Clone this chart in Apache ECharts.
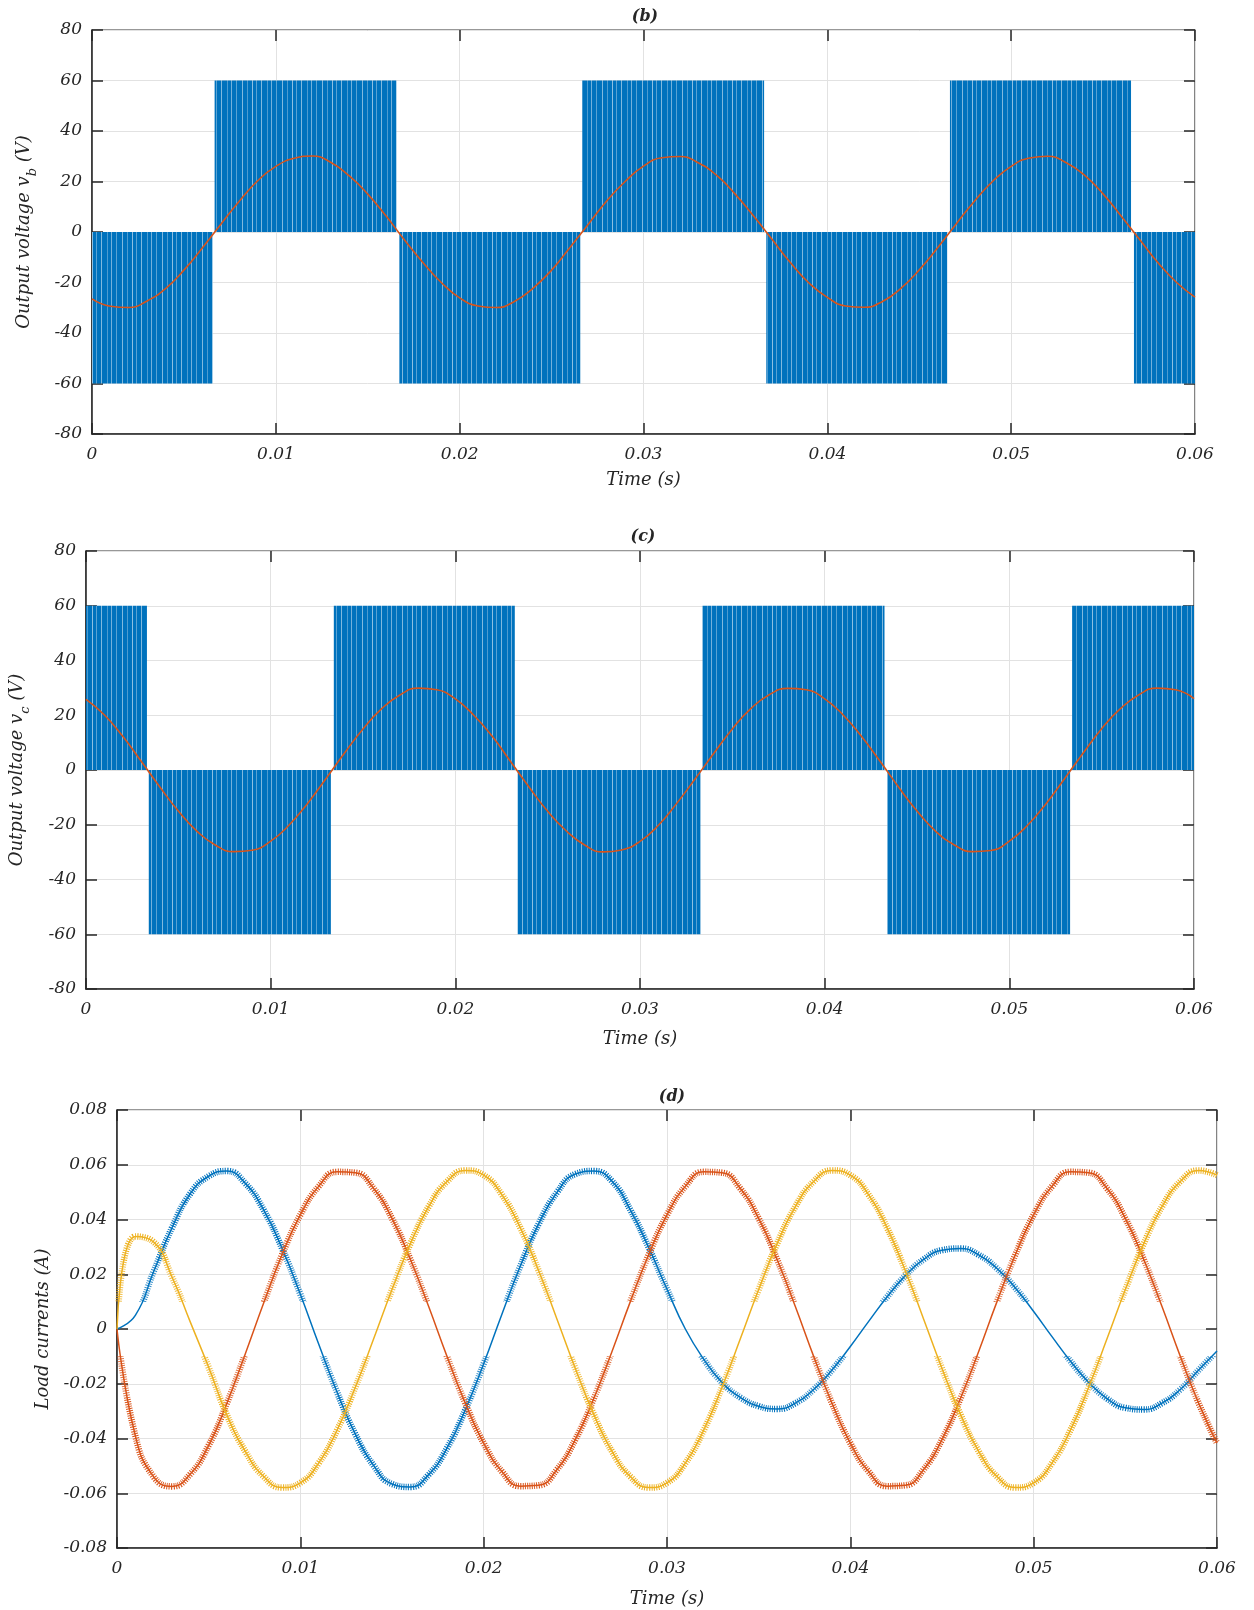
<!DOCTYPE html>
<html>
<head>
<meta charset="utf-8">
<script src="https://cdn.jsdelivr.net/npm/echarts@6/dist/echarts.min.js"></script>
<style>
  html, body { margin: 0; padding: 0; background: #fff; }
  #chart { width: 1254px; height: 1610px; }
</style>
</head>
<body>
<div id="chart"></div>
<script>
// sample times (s)
const time = [0, 0.001, 0.002, 0.003, 0.004, 0.005, 0.006, 0.007, 0.008, 0.009,
  0.010, 0.011, 0.012, 0.013, 0.014, 0.015, 0.016, 0.017, 0.018, 0.019,
  0.020, 0.021, 0.022, 0.023, 0.024, 0.025, 0.026, 0.027, 0.028, 0.029,
  0.030, 0.031, 0.032, 0.033, 0.034, 0.035, 0.036, 0.037, 0.038, 0.039,
  0.040, 0.041, 0.042, 0.043, 0.044, 0.045, 0.046, 0.047, 0.048, 0.049,
  0.050, 0.051, 0.052, 0.053, 0.054, 0.055, 0.056, 0.057, 0.058, 0.059, 0.060];

// PWM blocks of v_b (start, end, level)
const vbStart = [0, 0.00667, 0.01672, 0.02667, 0.03668, 0.04667, 0.05668];
const vbEnd = [0.00657, 0.01656, 0.02656, 0.03656, 0.04652, 0.05652, 0.06];
const vbLevel = [-60, 60, -60, 60, -60, 60, -60];

// PWM blocks of v_c
const vcStart = [0, 0.0034, 0.01342, 0.02338, 0.03339, 0.04339, 0.0534];
const vcEnd = [0.0033, 0.01326, 0.02322, 0.03327, 0.04324, 0.05329, 0.06];
const vcLevel = [60, -60, 60, -60, 60, -60, 60];

// fundamental of v_b and v_c (V)
const vbFund = [-26.5, -29.4, -29.9, -27.3, -22.4, -15.1, -6.3, 3.0, 12.1, 20.2,
  26.0, 29.2, 30.1, 27.5, 22.2, 15.0, 6.3, -3.2, -12.1, -20.0,
  -26.1, -29.3, -29.9, -27.4, -22.2, -15.1, -6.1, 3.1, 12.3, 20.0,
  26.1, 29.4, 29.9, 27.3, 22.3, 14.9, 6.2, -3.0, -12.2, -20.2,
  -25.9, -29.3, -29.8, -27.5, -22.3, -15.0, -6.2, 3.1, 12.2, 20.1,
  26.0, 29.3, 30.0, 27.4, 22.4, 15.1, 6.1, -3.1, -12.3, -20.0, -25.8];
const vcFund = [25.8, 20.1, 12.2, 3.1, -6.2, -15.0, -22.3, -27.4, -29.8, -29.3,
  -26.0, -20.1, -12.2, -3.1, 6.2, 15.0, 22.3, 27.4, 29.9, 29.3,
  26.0, 20.0, 12.3, 3.0, -6.3, -15.1, -22.2, -27.4, -29.9, -29.2,
  -26.1, -20.2, -12.1, -3.1, 6.1, 15.0, 22.4, 27.5, 29.8, 29.3,
  26.0, 20.1, 12.2, 3.2, -6.2, -15.0, -22.3, -27.3, -29.8, -29.4,
  -26.0, -20.1, -12.2, -3.1, 6.2, 15.1, 22.3, 27.4, 29.9, 29.3, 26.1];

// load currents (A)
const iBlue = [0, 0.005, 0.021, 0.037, 0.0495, 0.0558, 0.0577, 0.0532, 0.0435, 0.0295,
  0.0127, -0.0055, -0.0230, -0.0384, -0.0499, -0.0566, -0.0577, -0.0532, -0.0435, -0.0295,
  -0.0127, 0.0055, 0.0230, 0.0384, 0.0499, 0.0566, 0.0577, 0.0540, 0.0435, 0.0298,
  0.0145, 0.0000, -0.0110, -0.0195, -0.0250, -0.0282, -0.0292, -0.0271, -0.0221, -0.0150,
  -0.0064, 0.0028, 0.0117, 0.0195, 0.0254, 0.0288, 0.0294, 0.0271, 0.0221, 0.0150,
  0.0064, -0.0028, -0.0117, -0.0195, -0.0254, -0.0288, -0.0294, -0.0271, -0.0221, -0.0150, -0.0080];
const iRed = [0, -0.039, -0.054, -0.0575, -0.0530, -0.0425, -0.0270, -0.0090, 0.0095, 0.0271,
  0.0417, 0.0521, 0.0574, 0.0571, 0.0513, 0.0404, 0.0255, 0.0082, -0.0100, -0.0271,
  -0.0417, -0.0521, -0.0574, -0.0571, -0.0513, -0.0404, -0.0255, -0.0082, 0.0100, 0.0271,
  0.0417, 0.0521, 0.0574, 0.0571, 0.0513, 0.0404, 0.0255, 0.0082, -0.0100, -0.0271,
  -0.0417, -0.0521, -0.0574, -0.0571, -0.0513, -0.0404, -0.0255, -0.0082, 0.0100, 0.0271,
  0.0417, 0.0521, 0.0574, 0.0571, 0.0513, 0.0404, 0.0255, 0.0082, -0.0100, -0.0271, -0.0417];
const iYellow = [0, 0.0338, 0.0318, 0.0190, 0.0025, -0.0140, -0.0315, -0.0447, -0.0539, -0.0579,
  -0.0562, -0.0490, -0.0370, -0.0213, -0.0036, 0.0144, 0.0311, 0.0447, 0.0539, 0.0579,
  0.0562, 0.0490, 0.0370, 0.0213, 0.0036, -0.0144, -0.0311, -0.0447, -0.0539, -0.0579,
  -0.0562, -0.0490, -0.0370, -0.0213, -0.0036, 0.0144, 0.0311, 0.0447, 0.0539, 0.0579,
  0.0562, 0.0490, 0.0370, 0.0213, 0.0036, -0.0144, -0.0311, -0.0447, -0.0539, -0.0579,
  -0.0562, -0.0490, -0.0370, -0.0213, -0.0036, 0.0144, 0.0311, 0.0447, 0.0539, 0.0579, 0.0562];

const BLUE = '#0072BD';
const RED = '#D95319';
const YELLOW = '#EDB120';
const INK = '#262626';
const FONT = 'DejaVu Serif';

// blue fill with thin light stripes, like the dense PWM pulses
function stripeCanvas() {
  const c = document.createElement('canvas');
  c.width = 40;
  c.height = 8;
  const ctx = c.getContext('2d');
  ctx.fillStyle = BLUE;
  ctx.fillRect(0, 0, 40, 8);
  const stripes = [[2, 0.5], [7, 0.3], [12, 0.55], [16, 0.35], [21, 0.5], [27, 0.3], [31, 0.45], [36, 0.35]];
  stripes.forEach(([x, a]) => {
    ctx.fillStyle = 'rgba(255,255,255,' + a + ')';
    ctx.fillRect(x, 0, 1, 8);
  });
  return c;
}
const stripes = stripeCanvas();

function renderBlock(params, api) {
  const a = api.coord([api.value(0), api.value(2)]);
  const b = api.coord([api.value(1), 0]);
  return {
    type: 'rect',
    shape: { x: a[0], y: Math.min(a[1], b[1]), width: b[0] - a[0], height: Math.abs(b[1] - a[1]) },
    style: { fill: { image: stripes, repeat: 'repeat' } }
  };
}

const grids = [
  { left: 92, top: 30, right: 59, height: 404 },
  { left: 86, top: 551, right: 60, height: 438 },
  { left: 117, top: 1110, right: 37, height: 438 }
];

const labelStyle = { fontFamily: FONT, fontStyle: 'italic', fontSize: 17, color: INK };
const nameStyle = { fontFamily: FONT, fontStyle: 'italic', fontSize: 18, color: INK };
const tickStyle = { inside: true, length: 11, lineStyle: { color: INK, width: 1.5 } };

function timeLabel(v) {
  return v === 0 ? '0' : v.toFixed(2);
}

const xAxes = [];
const yAxes = [];
const xGaps = [37, 41, 42];
grids.forEach((g, i) => {
  xAxes.push({
    type: 'value', gridIndex: i, position: 'bottom', min: 0, max: 0.06, interval: 0.01,
    axisLine: { show: true, onZero: false, lineStyle: { color: INK, width: 1.5 } },
    axisTick: tickStyle,
    axisLabel: Object.assign({ margin: 12, formatter: timeLabel }, labelStyle),
    splitLine: { show: true, lineStyle: { color: '#e2e2e2', width: 1 } },
    name: 'Time (s)', nameLocation: 'middle', nameGap: xGaps[i], nameTextStyle: nameStyle
  });
  xAxes.push({
    type: 'value', gridIndex: i, position: 'top', min: 0, max: 0.06, interval: 0.01,
    axisLine: { show: false, onZero: false },
    axisTick: tickStyle,
    axisLabel: { show: false }, splitLine: { show: false }
  });
});

const nameRich = {
  a: { fontFamily: FONT, fontStyle: 'italic', fontSize: 18, color: INK, padding: [0, 0, 6, 0], verticalAlign: 'bottom' },
  s: { fontFamily: FONT, fontStyle: 'italic', fontSize: 13, color: INK, verticalAlign: 'bottom' }
};

const yDefs = [
  { min: -80, max: 80, step: 20, name: '{a|Output voltage v}{s|b}{a| (V)}', gap: 53, fmt: v => String(v) },
  { min: -80, max: 80, step: 20, name: '{a|Output voltage v}{s|c}{a| (V)}', gap: 54, fmt: v => String(v) },
  { min: -0.08, max: 0.08, step: 0.02, name: '{a|Load currents (A)}', gap: 58, fmt: v => (v === 0 ? '0' : v.toFixed(2)) }
];
yDefs.forEach((d, i) => {
  yAxes.push({
    type: 'value', gridIndex: i, position: 'left', min: d.min, max: d.max, interval: d.step,
    axisLine: { show: true, onZero: false, lineStyle: { color: INK, width: 1.5 } },
    axisTick: tickStyle,
    axisLabel: Object.assign({ margin: 10, formatter: d.fmt }, labelStyle),
    splitLine: { show: true, lineStyle: { color: '#e2e2e2', width: 1 } },
    name: d.name, nameLocation: 'middle', nameGap: d.gap,
    nameTextStyle: { rich: nameRich }
  });
  yAxes.push({
    type: 'value', gridIndex: i, position: 'right', min: d.min, max: d.max, interval: d.step,
    axisLine: { show: false, onZero: false },
    axisTick: tickStyle,
    axisLabel: { show: false }, splitLine: { show: false }
  });
});

function pairs(vals) {
  return time.map((t, i) => [t, vals[i]]);
}
function blocks(starts, ends, levels) {
  return starts.map((s, i) => [s, ends[i], levels[i]]);
}

function pwmSeries(idx, data) {
  return {
    type: 'custom', xAxisIndex: idx * 2, yAxisIndex: idx * 2,
    renderItem: renderBlock, clip: true,
    encode: { x: [0, 1], y: 2 },
    data: data, z: 2
  };
}
function fundSeries(idx, vals) {
  return {
    type: 'line', xAxisIndex: idx * 2, yAxisIndex: idx * 2,
    data: pairs(vals), smooth: true, symbol: 'none',
    lineStyle: { color: RED, width: 1.6 }, z: 3
  };
}
// each current: a thin core line plus a thick dashed copy that mimics the ripple teeth
// (the copy takes its colour from a visualMap so it can fade near zero)
function currentSeries(vals, color, z) {
  return [
    {
      type: 'line', xAxisIndex: 4, yAxisIndex: 4, data: pairs(vals),
      smooth: true, symbol: 'none', lineStyle: { color: color, width: 1.5 }, z: z
    },
    {
      type: 'line', xAxisIndex: 4, yAxisIndex: 4, data: pairs(vals),
      smooth: true, symbol: 'none', lineStyle: { width: 6.5, type: [1, 1.3] }, z: z
    }
  ];
}

function rippleMap(seriesIndex, rgb) {
  const full = 'rgba(' + rgb + ',1)';
  const part = 'rgba(' + rgb + ',0.8)';
  const none = 'rgba(' + rgb + ',0)';
  return {
    type: 'piecewise', show: false, seriesIndex: seriesIndex, dimension: 1,
    pieces: [
      { lt: -0.025, color: full },
      { gte: -0.025, lt: -0.01, color: part },
      { gte: -0.01, lt: 0.01, color: none },
      { gte: 0.01, lt: 0.025, color: part },
      { gte: 0.025, color: full }
    ]
  };
}

const chart = echarts.init(document.getElementById('chart'), null, { renderer: 'canvas' });
chart.setOption({
  animation: false,
  backgroundColor: '#fff',
  title: [
    { text: '(b)', left: 640, top: 4, textAlign: 'center', textStyle: { fontFamily: FONT, fontStyle: 'italic', fontWeight: 'bold', fontSize: 16, color: INK } },
    { text: '(c)', left: 638, top: 524, textAlign: 'center', textStyle: { fontFamily: FONT, fontStyle: 'italic', fontWeight: 'bold', fontSize: 16, color: INK } },
    { text: '(d)', left: 667, top: 1084, textAlign: 'center', textStyle: { fontFamily: FONT, fontStyle: 'italic', fontWeight: 'bold', fontSize: 16, color: INK } }
  ],
  grid: grids.map(g => Object.assign({ show: true, borderColor: '#333', borderWidth: 1.2, backgroundColor: 'transparent' }, g)),
  xAxis: xAxes,
  yAxis: yAxes,
  visualMap: [
    rippleMap(5, '0,114,189'),
    rippleMap(7, '217,83,25'),
    rippleMap(9, '237,177,32')
  ],
  series: [
    pwmSeries(0, blocks(vbStart, vbEnd, vbLevel)),
    fundSeries(0, vbFund),
    pwmSeries(1, blocks(vcStart, vcEnd, vcLevel)),
    fundSeries(1, vcFund)
  ].concat(
    currentSeries(iBlue, BLUE, 3),
    currentSeries(iRed, RED, 4),
    currentSeries(iYellow, YELLOW, 5)
  )
});
</script>
</body>
</html>
